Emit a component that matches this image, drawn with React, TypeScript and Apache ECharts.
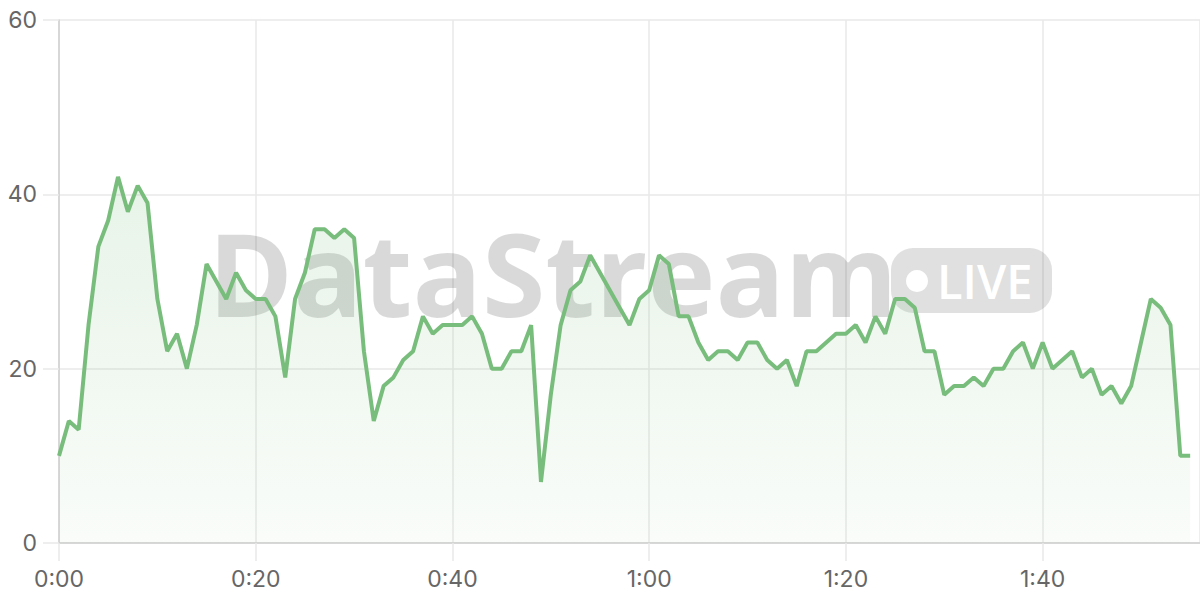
import React, { useEffect, useRef } from "react";
import * as echarts from "echarts";

// seconds since start (one sample per second)
const values: number[] = [
  10, 14, 13, 25, 34, 37, 42, 38, 41, 39,
  28, 22, 24, 20, 25, 32, 30, 28, 31, 29,
  28, 28, 26, 19, 28, 31, 36, 36, 35, 36,
  35, 22, 14, 18, 19, 21, 22, 26, 24, 25,
  25, 25, 26, 24, 20, 20, 22, 22, 25, 7,
  17, 25, 29, 30, 33, 31, 29, 27, 25, 28,
  29, 33, 32, 26, 26, 23, 21, 22, 22, 21,
  23, 23, 21, 20, 21, 18, 22, 22, 23, 24,
  24, 25, 23, 26, 24, 28, 28, 27, 22, 22,
  17, 18, 18, 19, 18, 20, 20, 22, 23, 20,
  23, 20, 21, 22, 19, 20, 17, 18, 16, 18,
  23, 28, 27, 25, 10, 10,
];
const times: number[] = values.map((_, i) => i);
const yTicks = [0, 20, 40, 60];
const xTickStep = 20;
const xMax = 116;

const WATERMARK = "DataStream";
const BADGE = "LIVE";

function fmt(v: number): string {
  const m = Math.floor(v / 60);
  const s = Math.round(v % 60);
  return `${m}:${s < 10 ? "0" + s : s}`;
}

export default function App() {
  const ref = useRef<HTMLDivElement>(null);
  useEffect(() => {
    if (!ref.current) return;
    const chart = echarts.init(ref.current, undefined, { renderer: "svg" });
    const green = "#79bd7c";
    chart.setOption({
      animation: false,
      grid: { left: 59, right: 0, top: 20, bottom: 57 },
      xAxis: {
        type: "value",
        min: 0,
        max: xMax,
        interval: xTickStep,
        axisLine: { show: true, lineStyle: { color: "#cfcfcf", width: 1.5 } },
        axisTick: { show: true, length: 18, lineStyle: { color: "#e8e8e8", width: 1.5 } },
        axisLabel: {
          showMaxLabel: false,
          formatter: (v: number) => fmt(v),
          color: "#666666",
          fontFamily: "Inter",
          fontSize: 23,
          margin: 24,
        },
        splitLine: { show: true, lineStyle: { color: "#e8e8e8", width: 1.5 } },
      },
      yAxis: {
        type: "value",
        min: yTicks[0],
        max: yTicks[yTicks.length - 1],
        interval: 20,
        axisLine: { show: true, lineStyle: { color: "#cfcfcf", width: 1.5 } },
        axisTick: { show: true, length: 16, lineStyle: { color: "#e8e8e8", width: 1.5 } },
        axisLabel: {
          color: "#666666",
          fontFamily: "Inter",
          fontSize: 23,
          margin: 22,
        },
        splitLine: { show: true, lineStyle: { color: "#e8e8e8", width: 1.5 } },
      },
      series: [
        {
          type: "line",
          data: times.map((t, i) => [t, values[i]]),
          symbol: "none",
          lineStyle: { color: green, width: 4 },
          itemStyle: { color: green },
          areaStyle: {
            color: new echarts.graphic.LinearGradient(0, 0, 0, 1, [
              { offset: 0, color: "rgba(121,189,124,0.25)" },
              { offset: 1, color: "rgba(121,189,124,0.06)" },
            ]),
          },
          z: 5,
        },
      ],
      graphic: [
        {
          type: "text",
          z: 1,
          x: 208,
          y: 272,
          style: {
            text: WATERMARK,
            font: "bold 115px 'Open Sans'",
            fill: "rgba(0,0,0,0.15)",
            textAlign: "left",
            textVerticalAlign: "middle",
          },
        },
        {
          type: "rect",
          z: 1,
          shape: { x: 891, y: 248, width: 161, height: 65, r: 22 },
          style: { fill: "rgba(0,0,0,0.12)" },
        },
        {
          type: "circle",
          z: 2,
          shape: { cx: 917, cy: 281, r: 11 },
          style: { fill: "#ffffff" },
        },
        {
          type: "text",
          z: 2,
          x: 937,
          y: 281,
          style: {
            text: BADGE,
            font: "600 47px 'Open Sans'",
            fill: "#ffffff",
            textAlign: "left",
            textVerticalAlign: "middle",
          },
        },
      ],
    });
    return () => chart.dispose();
  }, []);
  return <div ref={ref} style={{ width: 1200, height: 600, position: "absolute", left: 0, top: 0 }} />;
}
